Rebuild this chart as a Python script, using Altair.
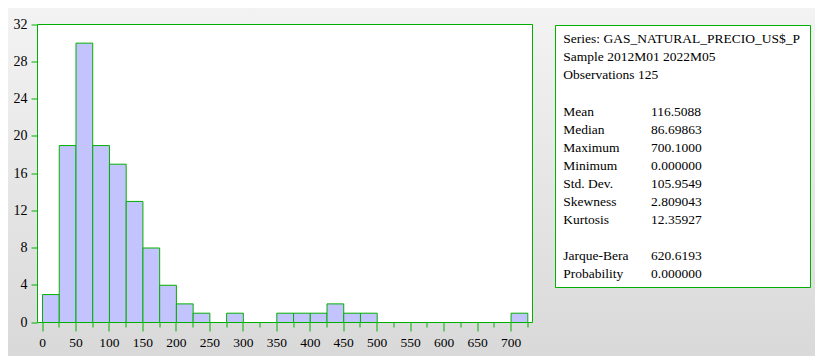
import altair as alt
import pandas as pd

# ---- data ----
bin_starts = [0, 25, 50, 75, 100, 125, 150, 175, 200, 225, 250, 275, 300, 325,
              350, 375, 400, 425, 450, 475, 500, 525, 550, 575, 600, 625, 650, 675, 700]
counts = [3, 19, 30, 19, 17, 13, 8, 4, 2, 1, 0, 1, 0, 0,
          1, 1, 1, 2, 1, 1, 0, 0, 0, 0, 0, 0, 0, 0, 1]
bin_width = 25
x_ticks = list(range(0, 726, 25))
y_ticks = [0, 4, 8, 12, 16, 20, 24, 28, 32]

stat_labels = ["Series: GAS_NATURAL_PRECIO_US$_P", "Sample 2012M01 2022M05", "Observations 125", "",
               "Mean", "Median", "Maximum", "Minimum", "Std. Dev.", "Skewness", "Kurtosis", "",
               "Jarque-Bera", "Probability"]
stat_values = ["", "", "", "",
               "116.5088", "86.69863", "700.1000", "0.000000", "105.9549", "2.809043", "12.35927", "",
               "620.6193", "0.000000"]

# ---- styling ----
GREEN = "#00b000"
BAR = "#c3c3fd"
FONT = "Liberation Serif"
W, H = 807, 348

hist_df = pd.DataFrame({
    "start": bin_starts,
    "end": [b + bin_width for b in bin_starts],
    "count": counts,
})
hist_df = hist_df[hist_df["count"] > 0]

rows = []
for i, (lab, val) in enumerate(zip(stat_labels, stat_values)):
    if lab:
        rows.append({"row": i, "col": 0, "text": lab})
    if val:
        rows.append({"row": i, "col": 1, "text": val})
stats_df = pd.DataFrame(rows)

one = pd.DataFrame({"a": [0]})

bg = alt.Chart(one).mark_rect(
    color=alt.Gradient(
        gradient="linear",
        stops=[alt.GradientStop(color="#f3f3f3", offset=0),
               alt.GradientStop(color="#d9d9d9", offset=1)],
        x1=0, x2=0, y1=0, y2=1,
    )
).encode(x=alt.value(0), x2=alt.value(W), y=alt.value(0), y2=alt.value(H))

frame = alt.Chart(one).mark_rect(fill="white", stroke=GREEN, strokeWidth=1).encode(
    x=alt.value(29.5), x2=alt.value(524.5), y=alt.value(16.5), y2=alt.value(314.5)
)

box = alt.Chart(one).mark_rect(fill="white", stroke=GREEN, strokeWidth=1).encode(
    x=alt.value(547.5), x2=alt.value(802.5), y=alt.value(17.5), y2=alt.value(279.5)
)

bars = alt.Chart(hist_df).mark_rect(fill=BAR, stroke=GREEN, strokeWidth=1).encode(
    x=alt.X(
        "start:Q",
        scale=alt.Scale(domain=[-7.5, 732], range=[29.5, 524.5], nice=False, zero=False),
        axis=alt.Axis(
            values=x_ticks,
            labelExpr="datum.value % 50 === 0 ? datum.label : ''",
            tickSize={"condition": {"test": "datum.value % 50 === 0", "value": 9}, "value": 5},
            tickColor=GREEN, tickWidth=1, domain=False, grid=False,
            labelFont=FONT, labelFontSize=13.5, labelColor="black",
            labelPadding=4, labelFlush=False, labelOverlap=False,
            offset=-33.5, translate=0, title=None, zindex=1,
        ),
    ),
    x2="end:Q",
    y=alt.Y(
        "count:Q",
        scale=alt.Scale(domain=[0, 32], range=[314.5, 16.5], nice=False),
        axis=alt.Axis(
            values=y_ticks, tickSize=6, tickColor=GREEN, tickWidth=1,
            domain=False, grid=False,
            labelFont=FONT, labelFontSize=14, labelColor="black",
            labelPadding=4, labelFlush=False, labelOverlap=False,
            offset=-29.5, translate=0, title=None, zindex=1,
        ),
    ),
    y2=alt.datum(0),
)

text = alt.Chart(stats_df).mark_text(
    align="left", baseline="alphabetic", font=FONT, fontSize=13.5, color="black"
).encode(
    x=alt.X("col:Q", scale=alt.Scale(domain=[0, 1], range=[555.3, 643]), axis=None),
    y=alt.Y("row:Q", scale=alt.Scale(domain=[0, 13], range=[35.3, 270]), axis=None),
    text="text:N",
)

chart = alt.layer(bg, frame, box, bars, text).resolve_scale(
    x="independent", y="independent"
).properties(
    width=W, height=H,
    autosize=alt.AutoSizeParams(type="none"),
    padding=0,
).configure_view(stroke=None)

chart.save("out.html", embed_options={"renderer": "svg", "actions": False})
